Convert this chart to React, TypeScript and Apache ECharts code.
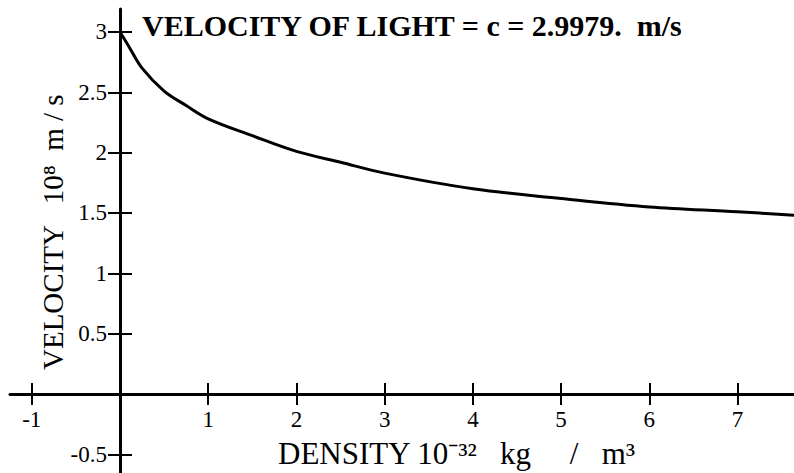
import React, { useEffect, useRef } from "react";
import * as echarts from "echarts";

const densityValues = [0, 0.1, 0.25, 0.5, 0.75, 1, 1.5, 2, 2.5, 3, 4, 5, 6, 7, 7.64];
const velocityValues = [3.0, 2.88, 2.7, 2.51, 2.39, 2.28, 2.14, 2.01, 1.92, 1.83, 1.7, 1.62, 1.55, 1.51, 1.48];
const xTickValues = [-1, 1, 2, 3, 4, 5, 6, 7];
const yTickValues = [-0.5, 0.5, 1, 1.5, 2, 2.5, 3];
const titleText = "VELOCITY OF LIGHT = c = 2.9979.  m/s";
const xName = "DENSITY 10⁻³²   kg     /   m³";
const yName = "VELOCITY   10⁸  m / s";

const X_MIN = -1.247;
const X_MAX = 7.64;
const Y_MIN = -0.655;
const Y_MAX = 3.19;

const GRID_LEFT = 10;
const GRID_RIGHT = 0;
const GRID_TOP = 9;
const GRID_BOTTOM = 0;
const W = 794;
const H = 473;

const FONT = "'Liberation Serif', 'Times New Roman', serif";
const LABEL_SIZE = 23;

export default function App() {
  const ref = useRef<HTMLDivElement>(null);

  useEffect(() => {
    if (!ref.current) return;
    const chart = echarts.init(ref.current, undefined, { renderer: "svg" });
    const data = densityValues.map((d, i) => [d, velocityValues[i]]);

    const plotW = W - GRID_LEFT - GRID_RIGHT;
    const plotH = H - GRID_TOP - GRID_BOTTOM;
    const zeroX = GRID_LEFT + ((0 - X_MIN) / (X_MAX - X_MIN)) * plotW;
    const zeroY = GRID_TOP + ((Y_MAX - 0) / (Y_MAX - Y_MIN)) * plotH;
    const offBottom = -(H - GRID_BOTTOM - zeroY);
    const offTop = -(zeroY - GRID_TOP);
    const offLeft = -(zeroX - GRID_LEFT);
    const offRight = -(W - GRID_RIGHT - zeroX);

    const tickStyle = { color: "#000", width: 2 };

    chart.setOption({
      animation: false,
      backgroundColor: "#ffffff",
      title: {
        text: titleText,
        left: 142,
        top: 10,
        padding: 0,
        textStyle: { fontFamily: FONT, fontSize: 30, fontWeight: "bold", color: "#000" },
      },
      grid: {
        left: GRID_LEFT,
        right: GRID_RIGHT,
        top: GRID_TOP,
        bottom: GRID_BOTTOM,
        containLabel: false,
        outerBoundsMode: "none",
      },
      xAxis: [
        {
          type: "value",
          min: X_MIN,
          max: X_MAX,
          position: "bottom",
          offset: offBottom,
          splitLine: { show: false },
          axisLine: { show: true, onZero: false, lineStyle: { color: "#000", width: 3 } },
          axisTick: { show: true, inside: false, length: 11, customValues: xTickValues, lineStyle: tickStyle },
          axisLabel: { show: false },
        },
        {
          type: "value",
          min: X_MIN,
          max: X_MAX,
          position: "top",
          offset: offTop,
          splitLine: { show: false },
          axisLine: { show: false, onZero: false },
          axisTick: { show: true, inside: false, length: 11, customValues: xTickValues, lineStyle: tickStyle },
          axisLabel: { show: false },
        },
      ],
      yAxis: [
        {
          type: "value",
          min: Y_MIN,
          max: Y_MAX,
          position: "left",
          offset: offLeft,
          splitLine: { show: false },
          axisLine: { show: true, onZero: false, lineStyle: { color: "#000", width: 3 } },
          axisTick: { show: true, inside: false, length: 12, customValues: yTickValues, lineStyle: tickStyle },
          axisLabel: { show: false },
        },
        {
          type: "value",
          min: Y_MIN,
          max: Y_MAX,
          position: "right",
          offset: offRight,
          splitLine: { show: false },
          axisLine: { show: false, onZero: false },
          axisTick: { show: true, inside: false, length: 12, customValues: yTickValues, lineStyle: tickStyle },
          axisLabel: { show: false },
        },
      ],
      series: [
        {
          type: "line",
          xAxisIndex: 0,
          yAxisIndex: 0,
          data,
          smooth: 0.35,
          showSymbol: false,
          symbol: "none",
          lineStyle: { color: "#000", width: 3 },
          itemStyle: { color: "#000" },
        },
      ],
    });

    // tick labels placed through the chart's own scales
    const origin = chart.convertToPixel({ gridIndex: 0 }, [0, 0]) as number[];
    const xLabels = xTickValues.map((v) => {
      const p = chart.convertToPixel({ gridIndex: 0 }, [v, 0]) as number[];
      return {
        type: "text",
        x: p[0],
        y: origin[1] + 14,
        style: {
          text: String(v),
          fontFamily: FONT,
          fontSize: LABEL_SIZE,
          fill: "#000",
          align: "center",
          verticalAlign: "top",
        },
      };
    });
    const yLabels = yTickValues.map((v) => {
      const p = chart.convertToPixel({ gridIndex: 0 }, [0, v]) as number[];
      return {
        type: "text",
        x: origin[0] - 13,
        y: p[1],
        style: {
          text: String(v),
          fontFamily: FONT,
          fontSize: LABEL_SIZE,
          fill: "#000",
          align: "right",
          verticalAlign: "middle",
        },
      };
    });

    chart.setOption({
      graphic: [
        ...xLabels,
        ...yLabels,
        {
          type: "text",
          x: 278,
          y: 453,
          style: {
            text: xName,
            fontFamily: FONT,
            fontSize: 31,
            fill: "#000",
            align: "left",
            verticalAlign: "middle",
          },
        },
        {
          type: "text",
          x: 53,
          y: 370,
          rotation: Math.PI / 2,
          style: {
            text: yName,
            fontFamily: FONT,
            fontSize: 29,
            fill: "#000",
            align: "left",
            verticalAlign: "middle",
          },
        },
      ],
    });

    return () => {
      chart.dispose();
    };
  }, []);

  return (
    <div
      ref={ref}
      style={{ position: "fixed", left: 0, top: 0, width: W, height: H, background: "#fff" }}
    />
  );
}
